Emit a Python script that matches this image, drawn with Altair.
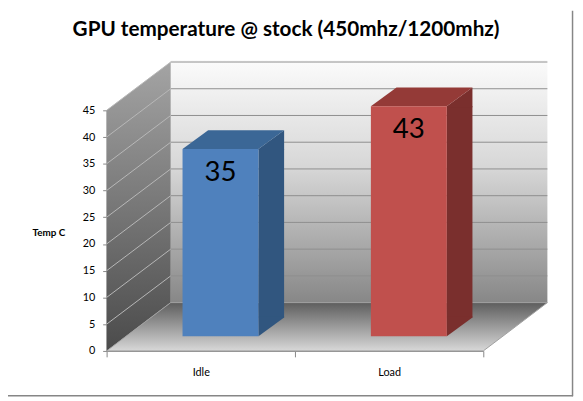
import altair as alt
import pandas as pd

# ---- data ----
categories = ["Idle", "Load"]
temps = [35, 43]
y_ticks = [0, 5, 10, 15, 20, 25, 30, 35, 40, 45]
front_colors = ["#4f81bd", "#c0504d"]
top_colors = ["#3b6796", "#943a37"]
side_colors = ["#31567f", "#7a2f2d"]
chart_title = ["GPU temperature @ stock (450mhz/1200mhz)"]
y_title = "Temp C"

df = pd.DataFrame({"cat": categories, "val": temps})
grid_df = pd.DataFrame({"v": y_ticks[1:]})
one = pd.DataFrame({"k": [0]})
title_df = pd.DataFrame({"t": chart_title})

# ---- geometry / style (not data) ----
W, H = 447, 244          # plot area
FRONT = 382              # width of the front (category) plane
DX, DY = 65, -49         # depth offset of the back wall
BD, BDY = 26, -19        # depth of the bars
BAR_W = 77
SHIFT_X, SHIFT_Y = 20, -15   # bars sit part-way into the depth
FONT = "Lato"
AX = "#868686"

yscale = alt.Scale(domain=[0, 45], nice=False, zero=True)
xscale = alt.Scale(domain=categories, range=[0, FRONT], paddingInner=0, paddingOuter=0)
yaxis = alt.Axis(values=y_ticks, grid=False, title=y_title, titleAngle=0,
                 titleFont=FONT, titleFontSize=10, titleFontWeight="bold",
                 titleColor="black", titleAlign="center", titleBaseline="middle",
                 titleX=-59, titleY=124, labelFont=FONT, labelFontSize=11,
                 labelColor="black", labelPadding=8, tickSize=4, tickColor=AX,
                 domainColor=AX)
xaxis = alt.Axis(title=None, tickBand="extent", tickSize=6, tickColor=AX,
                 domainColor=AX, labelFont=FONT, labelFontSize=11,
                 labelColor="black", labelPadding=10, labelAngle=0)

X = alt.X("cat:N", scale=xscale, axis=xaxis, sort=categories)
Y = alt.Y("val:Q", scale=yscale, axis=yaxis)
Y0 = alt.YDatum(0, type="quantitative", scale=yscale, axis=yaxis)


def grad(stops):
    return alt.Gradient(gradient="linear", x1=0, y1=0, x2=0, y2=1,
                        stops=[alt.GradientStop(color=c, offset=o) for o, c in stops])


def shape_layer(path, fill, stroke_w=0, stroke="#a0a0a0"):
    return alt.Chart(one).mark_point(
        shape=path, size=4, filled=True, opacity=1, fill=fill,
        strokeWidth=stroke_w, stroke=stroke
    ).encode(x=alt.value(0), y=Y0)


back_wall = shape_layer(
    f"M{DX},{DY} L{W},{DY} L{W},{DY - H - 2} L{DX},{DY - H - 2} Z",
    grad([(0, "#fbfbfb"), (0.45, "#d6d6d6"), (1, "#878787")]))
back_grid = alt.Chart(grid_df).mark_rule(color="#8e8e8e", strokeWidth=1, yOffset=DY).encode(
    x=alt.value(DX), x2=alt.value(W), y=alt.Y("v:Q", scale=yscale, axis=yaxis))
left_wall = shape_layer(
    f"M0,0 L0,{-H} L{DX},{DY - H} L{DX},{DY} Z",
    grad([(0, "#a4a4a4"), (1, "#4b4b4b")]))
left_grid = alt.Chart(grid_df).mark_rule(color="#b8b8b8", strokeWidth=1, y2Offset=DY).encode(
    x=alt.value(0), x2=alt.value(DX), y=alt.Y("v:Q", scale=yscale, axis=yaxis), y2="v:Q")
floor = shape_layer(
    f"M0,0 L{FRONT},0 L{W},{DY} L{DX},{DY} Z",
    grad([(0, "#5e5e5e"), (1, "#d8d8d8")]), stroke_w=1)


def cond(colors):
    return alt.when(alt.datum.cat == categories[0]).then(alt.value(colors[0])).otherwise(alt.value(colors[1]))


base = alt.Chart(df)
half = BAR_W / 2
side_rect = base.mark_bar(width=BD, xOffset=SHIFT_X + half + BD / 2,
                          yOffset=SHIFT_Y, y2Offset=SHIFT_Y + BDY).encode(
    x=X, y=Y, y2=alt.Y2Datum(0), fill=cond(side_colors))
side_top = base.mark_point(
    shape=f"M{half},0 L{half + BD},{BDY} L{half + BD},1 L{half},1 Z",
    size=4, filled=True, opacity=1, strokeWidth=0, xOffset=SHIFT_X, yOffset=SHIFT_Y
).encode(x=X, y=Y, fill=cond(side_colors))
side_bottom = base.mark_point(
    shape=f"M{half},{BDY - 1} L{half + BD},{BDY - 1} L{half + BD},{BDY} L{half},0 Z",
    size=4, filled=True, opacity=1, strokeWidth=0, xOffset=SHIFT_X, yOffset=SHIFT_Y
).encode(x=X, y=Y0, fill=cond(side_colors))
top_face = base.mark_point(
    shape=f"M{-half},0 L{half},0 L{half + BD},{BDY} L{-half + BD},{BDY} Z",
    size=4, filled=True, opacity=1, strokeWidth=0, xOffset=SHIFT_X, yOffset=SHIFT_Y
).encode(x=X, y=Y, fill=cond(top_colors))
front = base.mark_bar(width=BAR_W, xOffset=SHIFT_X, yOffset=SHIFT_Y, y2Offset=SHIFT_Y).encode(
    x=X, y=Y, y2=alt.Y2Datum(0), fill=cond(front_colors))
labels = base.mark_text(font=FONT, fontSize=28, color="black", align="center",
                        baseline="middle", xOffset=SHIFT_X, yOffset=9).encode(
    x=X, y=Y, text="val:Q")

title_mark = alt.Chart(title_df).mark_text(
    font=FONT, fontSize=21, fontWeight="bold", color="black",
    align="center", baseline="alphabetic").encode(
    x=alt.value(182), y=alt.value(-75), text="t:N")

border_r = alt.Chart(one).mark_rule(color=AX, strokeWidth=1.5).encode(
    x=alt.value(472.5), y=alt.value(-101), y2=alt.value(290))
border_b = alt.Chart(one).mark_rule(color=AX, strokeWidth=1.5).encode(
    x=alt.value(-100), x2=alt.value(473), y=alt.value(289.5))

chart = alt.layer(
    back_wall, back_grid, left_wall, left_grid, floor,
    side_rect, side_top, side_bottom, top_face, front, labels,
    title_mark, border_r, border_b
).properties(
    width=W, height=H,
    autosize=alt.AutoSizeParams(type="none"),
    padding={"left": 100, "top": 101, "right": 28, "bottom": 48},
    background="white",
).configure_view(strokeWidth=0)

chart.save("out.html", embed_options={"renderer": "svg", "actions": False})
